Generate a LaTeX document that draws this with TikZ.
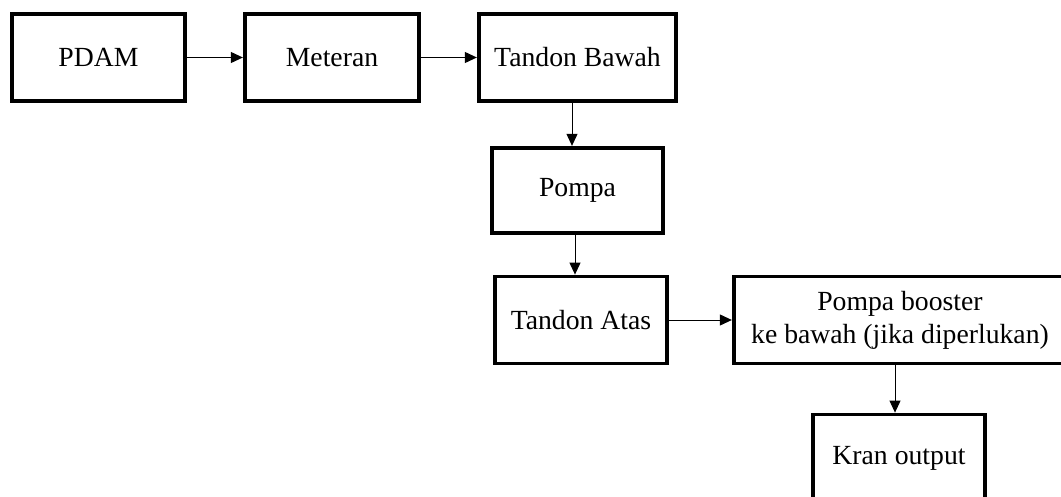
\documentclass[tikz,border=0pt]{standalone}
\usepackage{fontspec}
\setmainfont{Liberation Serif}
\usetikzlibrary{arrows.meta, positioning, calc}

\begin{document}
\begin{tikzpicture}[x=1pt, y=-1pt,
    blok/.style={draw, line width=3.8pt, inner sep=0pt, align=center,
      minimum height=87pt, font=\fontsize{27.7}{33}\selectfont},
    flow/.style={-{Triangle[length=12pt, width=11pt]}, line width=1pt}]
  \clip (0,0) rectangle (1061,496);
  \fill[white] (0,0) rectangle (1061,496);
  % top row
  \node[blok, minimum width=173.5pt] (pdam)    at (98.5,57.5) {PDAM};
  \node[blok, minimum width=174.5pt] (meteran) at (332,57.5)  {Meteran};
  \node[blok, minimum width=197.5pt] (bawah)   at (577.5,57.5) {Tandon Bawah};
  % down the middle
  \node[blok, minimum width=171.5pt, minimum height=85.5pt] (pompa) at (577.5,190.5) {Pompa};
  \node[blok, minimum width=172.5pt] (atas)    at (581,320)   {Tandon Atas};
  \node[blok, minimum width=332.5pt] (booster) at (900,320)   {Pompa booster\\ke bawah (jika diperlukan)};
  \node[blok, minimum width=172.5pt] (kran)    at (899,458)   {Kran output};

  \draw[flow] (pdam) -- (meteran);
  \draw[flow] (meteran) -- (bawah);
  \draw[flow] ([xshift=-5.5pt]bawah.south) -- ([xshift=-5.5pt]bawah.south |- pompa.north);
  \draw[flow] ([xshift=-2.5pt]pompa.south) -- ([xshift=-2.5pt]pompa.south |- atas.north);
  \draw[flow] (atas) -- (booster);
  \draw[flow] ([xshift=-5pt]booster.south) -- ([xshift=-5pt]booster.south |- kran.north);
\end{tikzpicture}
\end{document}
